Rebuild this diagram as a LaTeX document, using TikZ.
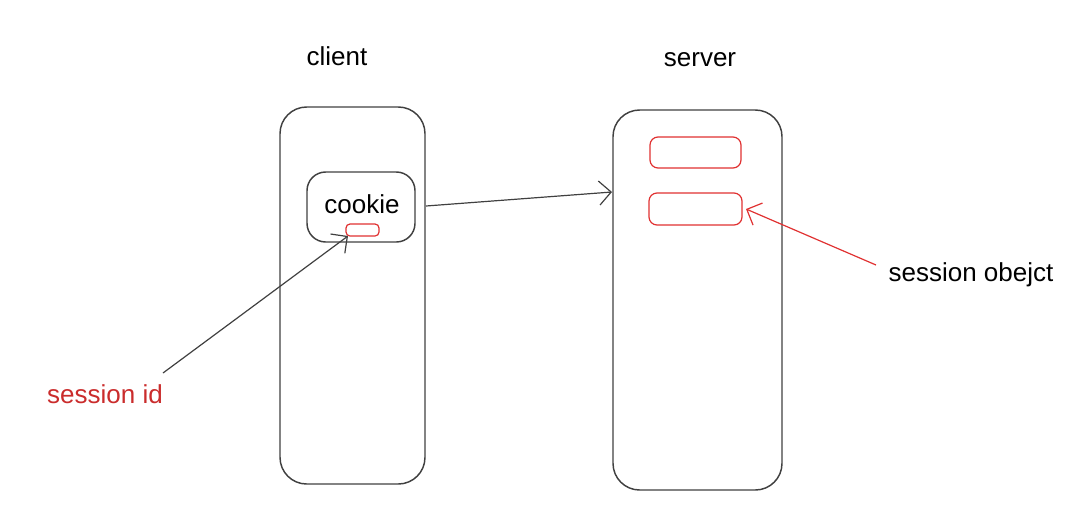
\documentclass[tikz,border=0pt]{standalone}
\usepackage{fontspec}
\setmainfont{Liberation Sans}
\usetikzlibrary{arrows.meta}
\definecolor{exred}{HTML}{E03131}
\definecolor{exdark}{HTML}{1E1E1E}
\tikzset{
  box/.style={draw=exdark!85, line width=1.1pt, rounded corners=20pt},
  redbox/.style={draw=exred, line width=0.9pt, rounded corners=6pt},
  lbl/.style={font=\fontsize{19.5}{23}\selectfont, text=black},
  conn/.style={line width=0.9pt, -{Straight Barb[length=9pt,width=18pt]}},
}
\begin{document}
\begin{tikzpicture}[x=0.75pt,y=-0.75pt]
\useasboundingbox (0,0) rectangle (1067,504);
% boxes
\draw[box] (280,107) rectangle (425,484);
\draw[box] (613,110) rectangle (782,490);
\draw[box, rounded corners=14pt] (307,172) rectangle (415,242);
\coordinate (cookieR) at (426,206);
\coordinate (serverL) at (612,192);
\draw[redbox, rounded corners=3pt] (346,224) rectangle (379,236);
\coordinate (sid) at (348,236);
\draw[redbox] (650,137) rectangle (741,168);
\draw[redbox] (649,193) rectangle (742,225);
\coordinate (sobj) at (746,209);
% labels
\node[lbl] (clientlbl) at (337,56) {client};
\node[lbl] (serverlbl) at (700,60) {server};
\node[lbl] (cookielbl) at (362,204) {cookie};
\node[lbl, text=exred!90!black] (sidlbl) at (105,394) {session id};
\node[lbl] (sobjlbl) at (971,275) {session obejct};
\coordinate (sidstart) at (163,373);
\coordinate (sobjstart) at (876,265);
% connectors
\draw[conn, exdark!85] (cookieR) -- (serverL);
\draw[conn, exdark!85] (sidstart) -- (sid);
\draw[conn, exred] (sobjstart) -- (sobj);
\end{tikzpicture}
\end{document}
